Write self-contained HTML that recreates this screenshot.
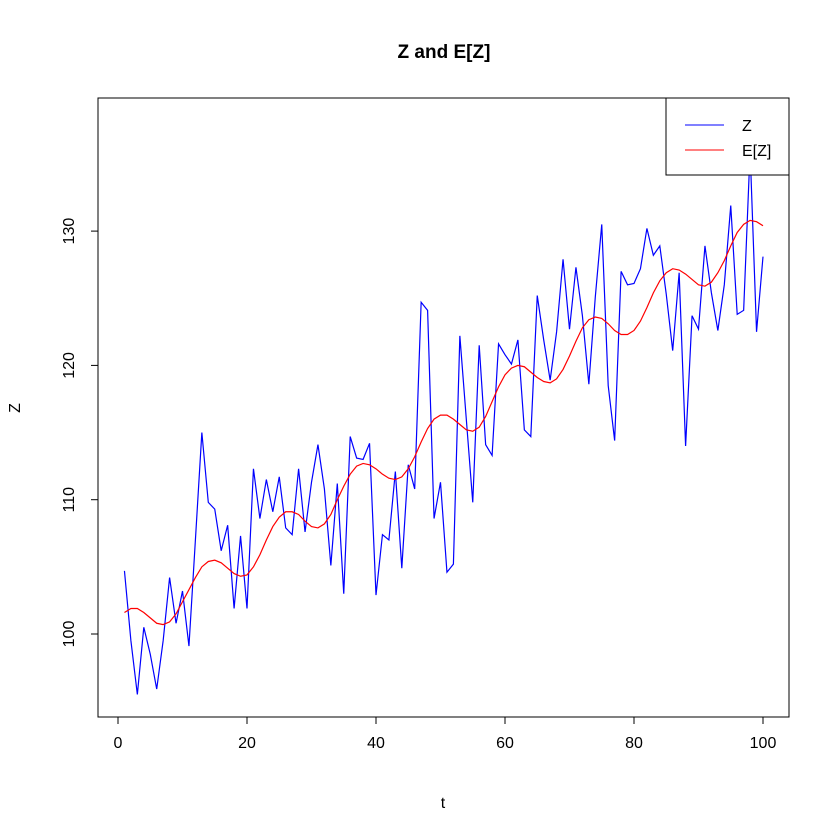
<!DOCTYPE html>
<html><head><meta charset="utf-8"><style>body{margin:0;background:#fff}svg{display:block;font-family:"Liberation Sans",sans-serif}</style></head>
<body>
<svg id="chart" width="840" height="840" xmlns="http://www.w3.org/2000/svg">
<rect width="840" height="840" fill="#fff"/>
<text x="444" y="58" text-anchor="middle" font-size="19" font-weight="bold">Z and E[Z]</text>
<rect x="98" y="98" width="691" height="619" fill="none" stroke="#000"/>
<g id="xaxis"></g>
<g id="yaxis"></g>
<text x="443" y="808" text-anchor="middle" font-size="16">t</text>
<text transform="translate(20,408) rotate(-90)" text-anchor="middle" font-size="16">Z</text>
<polyline id="zline" fill="none" stroke="#0000ff" stroke-width="1.2"/>
<polyline id="eline" fill="none" stroke="#ff0000" stroke-width="1.2"/>
<g>
<rect x="666" y="98" width="123" height="77" fill="#fff" stroke="#000"/>
<line x1="685" y1="125" x2="724" y2="125" stroke="#0000ff"/>
<text x="742" y="131" font-size="16">Z</text>
<line x1="685" y1="150" x2="724" y2="150" stroke="#ff0000"/>
<text x="742" y="156" font-size="16">E[Z]</text>
</g>
</svg>
<script>
const zValues=[104.7,99.5,95.5,100.5,98.5,95.9,99.5,104.2,100.8,103.2,99.1,107,115,109.8,109.3,106.2,108.1,101.9,107.3,101.9,112.3,108.6,111.5,109.1,111.7,107.9,107.4,112.3,107.6,111.3,114.1,110.8,105.1,111.2,103,114.7,113.1,113,114.2,102.9,107.4,107.0,112.1,104.9,112.6,110.8,124.7,124.1,108.6,111.3,104.6,105.2,122.2,116,109.8,121.5,114.1,113.3,121.6,120.8,120.1,121.9,115.2,114.7,125.2,121.9,118.9,122.5,127.9,122.7,127.3,123.7,118.6,125.1,130.5,118.5,114.4,127,126,126.1,127.2,130.2,128.2,128.9,125.3,121.1,126.9,114,123.7,122.7,128.9,125.4,122.6,126,131.9,123.8,124.1,136,122.5,128.1];
const ezValues=[101.6,101.9,101.9,101.6,101.2,100.8,100.7,100.9,101.5,102.4,103.3,104.2,105.0,105.4,105.5,105.3,104.9,104.5,104.3,104.4,105.0,105.9,107.0,108.0,108.7,109.1,109.1,108.9,108.4,108.0,107.9,108.2,108.9,110.0,111.0,111.9,112.5,112.7,112.6,112.3,111.9,111.6,111.5,111.7,112.3,113.2,114.3,115.3,116.0,116.3,116.3,116.0,115.6,115.2,115.1,115.4,116.2,117.3,118.4,119.3,119.8,120.0,119.9,119.5,119.1,118.8,118.7,119.0,119.7,120.7,121.8,122.8,123.4,123.6,123.5,123.1,122.6,122.3,122.3,122.6,123.3,124.3,125.4,126.3,126.9,127.2,127.1,126.8,126.4,126.0,125.9,126.2,126.9,127.8,128.9,129.9,130.5,130.8,130.7,130.4];
const xTicks=[0,20,40,60,80,100];
const yTicks=[100,110,120,130];
const NS="http://www.w3.org/2000/svg";
function xs(t){return 118+6.45*t;}
function ys(v){return 634-(v-100)*13.43;}
function mk(tag,attrs,parent){const e=document.createElementNS(NS,tag);for(const k in attrs)e.setAttribute(k,attrs[k]);parent.appendChild(e);return e;}
document.getElementById('zline').setAttribute('points',zValues.map((v,i)=>xs(i+1)+','+ys(v)).join(' '));
document.getElementById('eline').setAttribute('points',ezValues.map((v,i)=>xs(i+1)+','+ys(v)).join(' '));
const xa=document.getElementById('xaxis');
mk('line',{x1:xs(xTicks[0]),y1:717,x2:xs(xTicks[xTicks.length-1]),y2:717,stroke:'#000'},xa);
xTicks.forEach(t=>{
 const l=mk('line',{x1:xs(t),y1:717,x2:xs(t),y2:724,stroke:'#000'},xa);
 
 
 const tx=mk('text',{x:xs(t),y:748,'text-anchor':'middle','font-size':'16'},xa);tx.textContent=t;
 
 
});
const ya=document.getElementById('yaxis');
mk('line',{x1:98,y1:ys(yTicks[0]),x2:98,y2:ys(yTicks[yTicks.length-1]),stroke:'#000'},ya);
yTicks.forEach(v=>{
 const l=mk('line',{x1:91,y1:ys(v),x2:98,y2:ys(v),stroke:'#000'},ya);
 
 
 const tx=mk('text',{transform:'translate(74,'+ys(v)+') rotate(-90)','text-anchor':'middle','font-size':'16'},ya);tx.textContent=v;
 
 
});
</script>
</body></html>
